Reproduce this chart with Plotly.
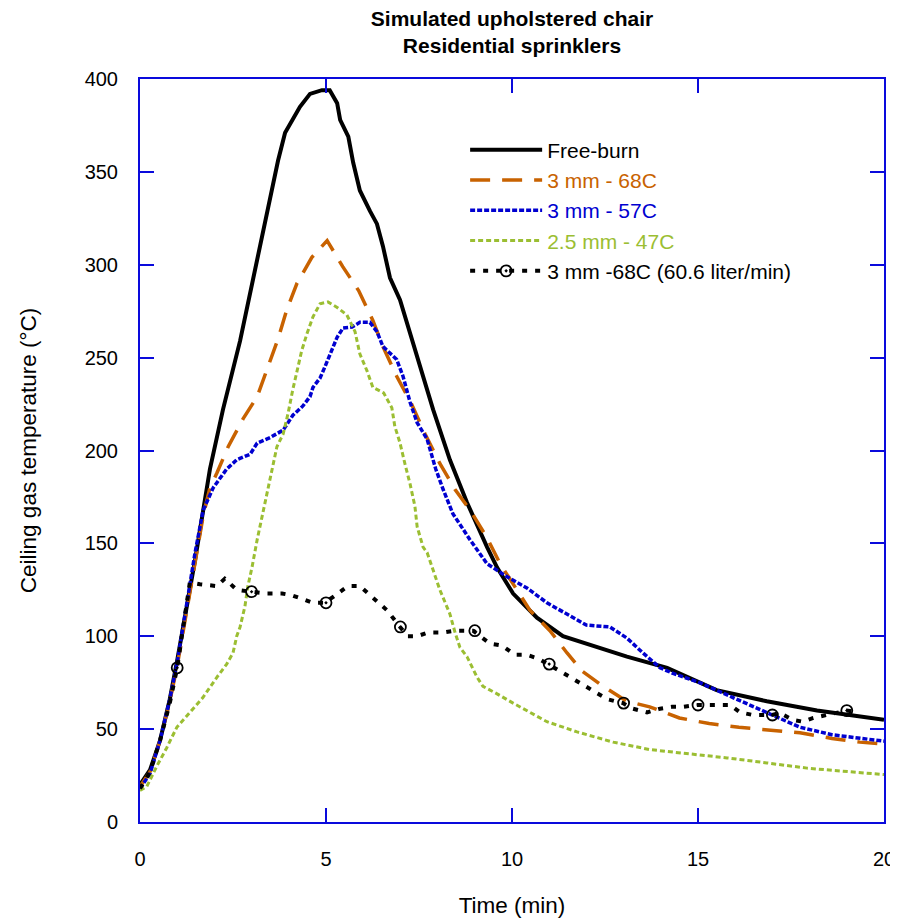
import plotly.graph_objects as go

# ---- data ----
t_free = [0, 0.27, 0.54, 0.8, 1.0, 1.24, 1.48, 1.88, 2.23, 2.69, 3.15, 3.5, 3.71, 3.9, 4.11, 4.3, 4.57,
          4.89, 5.1, 5.3, 5.38, 5.6, 5.73, 5.91, 6.18, 6.37, 6.53, 6.72, 6.99, 7.45, 7.88, 8.33, 8.79,
          9.33, 9.6, 10.03, 10.67, 11.37, 12.28, 13.09, 14.17, 15.5, 16.85, 18.2, 20]
T_free = [20, 28, 44, 66, 87, 114, 141, 190, 222, 259, 302, 335, 356, 371, 378, 385, 392,
          394, 394, 387, 378, 369, 355, 340, 329, 322, 310, 293, 281, 250, 222, 195, 172,
          148, 137, 123, 110, 100, 94, 89, 83, 71, 65, 60, 55]

t_68 = [0, 0.27, 0.54, 0.8, 1.0, 1.24, 1.48, 1.7, 1.88, 2.07, 2.37, 2.77, 3.15, 3.44, 3.71, 3.95, 4.22,
        4.62, 5.03, 5.45, 5.88, 6.26, 6.53, 6.9, 7.3, 7.66, 8.06, 8.47, 8.87, 9.33, 9.68, 10.13,
        10.48, 11.02, 11.48, 11.9, 12.45, 13.09, 13.7, 14.5, 15.3, 16.1, 16.94, 17.74, 18.6, 19.35, 20]
T_68 = [19, 27, 44, 65, 84, 112, 140, 165, 180, 188, 202, 217, 229, 245, 260, 276, 290,
        304, 313, 299, 286, 270, 256, 240, 225, 209, 193, 179, 168, 153, 139, 125,
        114, 103, 91, 81, 73, 65, 62, 56, 53, 51, 49.5, 48, 45, 43, 42]

t_57 = [0, 0.27, 0.54, 0.8, 1.0, 1.24, 1.48, 1.7, 1.97, 2.33, 2.6, 2.96, 3.15, 3.5, 3.85, 3.98, 4.11,
        4.38, 4.57, 4.65, 4.84, 4.97, 5.16, 5.3, 5.46, 5.7, 5.91, 6.18, 6.37, 6.53, 6.9, 7.07, 7.26,
        7.45, 7.72, 7.95, 8.15, 8.41, 8.87, 9.33, 9.87, 10.4, 10.94, 11.37, 12.0, 12.63, 13.09,
        13.52, 13.98, 14.33, 15.05, 15.94, 16.85, 17.74, 18.6, 20]
T_57 = [18, 26, 44, 66, 86, 115, 145, 168, 180, 190, 195, 198, 204, 207, 211, 215, 219,
        224, 229, 234, 239, 245, 254, 261, 266, 266.5, 269, 269, 264, 256, 249, 240, 226,
        215, 206, 190, 179, 166, 152, 139, 132, 126, 118, 113, 106, 105, 99,
        91, 83, 80, 75, 67, 59, 51, 47, 43.5]

t_47 = [0, 0.18, 0.45, 0.72, 0.99, 1.34, 1.69, 2.07, 2.33, 2.5, 2.6, 2.69, 2.82, 2.9, 3.01, 3.15, 3.28,
        3.41, 3.55, 3.68, 3.85, 3.98, 4.11, 4.22, 4.35, 4.49, 4.65, 4.84, 5.05, 5.3, 5.56, 5.78,
        5.91, 6.1, 6.26, 6.55, 6.77, 6.85, 6.99, 7.12, 7.26, 7.39, 7.45, 7.61, 7.72, 8.06, 8.33,
        8.47, 8.6, 8.79, 9.06, 9.22, 9.6, 10.03, 10.4, 10.94, 11.75, 12.72, 13.7, 14.7, 15.78,
        16.85, 17.93, 19.1, 20]
T_47 = [17, 19, 30, 40, 51, 59, 67, 78, 85, 91, 100, 105, 116, 127, 137, 152, 164,
        177, 190, 202, 209, 220, 233, 243, 254, 263, 272, 279, 280, 277, 273, 264,
        252, 243, 234, 231, 223, 213, 204, 193, 182, 170, 159, 148, 145, 125, 112,
        102, 94, 89, 78, 73, 69, 64, 60, 54, 48.5, 43, 39, 37, 34.5,
        31.8, 29, 27, 25.5]

t_606 = [0, 0.27, 0.54, 0.8, 1.0, 1.2, 1.34, 1.61, 2.07, 2.28, 2.6, 2.98, 3.41, 3.82, 4.09, 4.38, 4.65,
         4.97, 5.32, 5.59, 5.91, 6.13, 6.4, 6.64, 6.99, 7.2, 7.45, 7.74, 8.15, 8.47, 8.95, 9.14,
         9.41, 9.73, 10.08, 10.4, 10.7, 10.97, 11.29, 11.6, 11.9, 12.23, 12.58, 12.98, 13.25,
         13.63, 13.98, 14.3, 14.6, 14.97, 15.24, 15.54, 15.86, 16.13, 16.48, 16.85, 16.99,
         17.2, 17.55, 17.82, 18.1, 19.0, 19.3]
T_606 = [18, 27, 44, 64, 83, 110, 129, 128, 127, 131, 125, 124, 123, 123, 122, 120, 118,
         118, 123, 127, 127, 123, 118, 114, 105, 100, 100, 102, 102, 103, 103, 100,
         96, 95, 90, 90, 88, 85, 81, 77.5, 74, 70, 66, 64, 61,
         59, 61, 62, 62, 63, 63, 63, 63, 59, 57.6, 57.6, 57.6,
         58.7, 55, 54, 56, 60, 59]
t_606_marks = [1, 3, 5, 7, 9, 11, 13, 15, 17, 19]
T_606_marks = [83, 124, 118, 105, 103, 85, 64, 63, 57.6, 60]

x_ticks = [0, 5, 10, 15, 20]
y_ticks = [0, 50, 100, 150, 200, 250, 300, 350, 400]

BLACK = "#000000"
ORANGE = "#C86200"
BLUE = "#0000D0"
GREEN = "#9BBE32"
AXIS = "#0A0ADC"
FONT = "Liberation Sans, Arial, sans-serif"

# The page body has an 8px margin, so the figure is sized 8px smaller each way.
W, H = 890, 911

fig = go.Figure()
fig.add_trace(go.Scatter(x=t_free, y=T_free, mode="lines", name="Free-burn",
                         line=dict(color=BLACK, width=4), legendgroup="a"))
fig.add_trace(go.Scatter(x=t_68, y=T_68, mode="lines",
                         name=f'<span style="color:{ORANGE}">3 mm - 68C</span>',
                         line=dict(color=ORANGE, width=3.5, dash="20px,12px"), legendgroup="b"))
fig.add_trace(go.Scatter(x=t_57, y=T_57, mode="lines",
                         name=f'<span style="color:{BLUE}">3 mm - 57C</span>',
                         line=dict(color=BLUE, width=3.5, dash="5px,2px"), legendgroup="c"))
fig.add_trace(go.Scatter(x=t_47, y=T_47, mode="lines",
                         name=f'<span style="color:{GREEN}">2.5 mm - 47C</span>',
                         line=dict(color=GREEN, width=3, dash="5px,3px"), legendgroup="d"))
fig.add_trace(go.Scatter(x=t_606, y=T_606, mode="lines", showlegend=False,
                         line=dict(color=BLACK, width=4, dash="5px,8px"), legendgroup="e"))
fig.add_trace(go.Scatter(x=t_606_marks, y=T_606_marks, mode="markers", showlegend=False,
                         marker=dict(symbol="circle-open-dot", size=11, color=BLACK,
                                     line=dict(width=1.8, color=BLACK)), legendgroup="e"))
fig.add_trace(go.Scatter(x=[None], y=[None], mode="lines+markers",
                         name="3 mm -68C (60.6 liter/min)",
                         line=dict(color=BLACK, width=4, dash="5px,8px"),
                         marker=dict(symbol="circle-open-dot", size=11, color=BLACK,
                                     line=dict(width=1.8, color=BLACK)), legendgroup="e"))

axis_common = dict(showline=True, linecolor=AXIS, linewidth=2, mirror="ticks",
                   ticks="inside", tickcolor=AXIS, tickwidth=1.5, ticklen=14,
                   showgrid=False, zeroline=False, automargin=False,
                   tickfont=dict(family=FONT, size=20, color="black"))

fig.update_xaxes(range=[0, 20], tickvals=x_ticks, ticktext=[str(v) for v in x_ticks],
                 ticklabelstandoff=18,
                 title=dict(text="Time (min)", font=dict(family=FONT, size=22.5, color="black"),
                            standoff=28),
                 **axis_common)
fig.update_yaxes(range=[0, 400], tickvals=y_ticks, ticktext=[str(v) for v in y_ticks],
                 ticklabelstandoff=16,
                 title=dict(text="Ceiling gas temperature (°C)",
                            font=dict(family=FONT, size=22.5, color="black"), standoff=42),
                 **axis_common)

fig.update_layout(
    width=W, height=H,
    margin=dict(l=132, r=14, t=71, b=97),
    paper_bgcolor="white", plot_bgcolor="white",
    font=dict(family=FONT, color="black"),
    title=dict(text="<b>Simulated upholstered chair<br>Residential sprinklers</b>",
               x=504 / W, xanchor="center", yref="container", y=1 - 18 / H, yanchor="top",
               font=dict(family=FONT, size=21, color="black")),
    legend=dict(x=0.437, y=0.932, xanchor="left", yanchor="top",
                bgcolor="rgba(0,0,0,0)", font=dict(family=FONT, size=21, color="black"),
                itemwidth=72, traceorder="grouped", tracegroupgap=0),
)

fig.write_html("out.html")
